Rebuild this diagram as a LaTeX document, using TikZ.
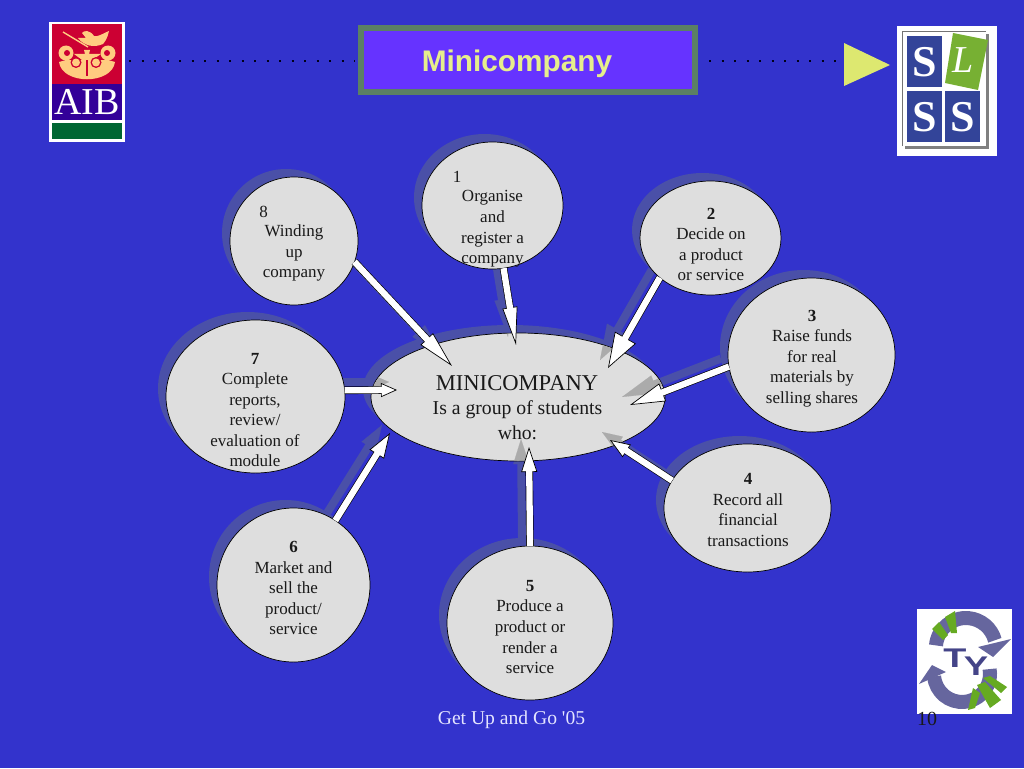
\documentclass[tikz,border=0pt]{standalone}
\usepackage{fontspec}
\usepackage{graphicx}
\setmainfont{Liberation Serif}
\newfontfamily\arialf{Liberation Sans}
\newfontfamily\plainserif{Liberation Serif}
\usetikzlibrary{shapes.geometric,arrows.meta,backgrounds}
\definecolor{bgblue}{HTML}{3333CC}
\definecolor{shadowblue}{HTML}{4A50A8}
\definecolor{bubble}{HTML}{DEDEDE}
\definecolor{titlefill}{HTML}{6633FF}
\definecolor{titleline}{HTML}{5B8064}
\definecolor{titletext}{HTML}{E6EE8C}
\definecolor{lime}{HTML}{DDE870}
\definecolor{aibred}{HTML}{CC0033}
\definecolor{aibblue}{HTML}{330099}
\definecolor{aibgreen}{HTML}{006633}
\definecolor{peach}{HTML}{FFCC80}
\definecolor{slssblue}{HTML}{334499}
\definecolor{slssgreen}{HTML}{77B033}
\definecolor{tyarc}{HTML}{66669E}
\definecolor{tydark}{HTML}{444488}
\definecolor{tygreen}{HTML}{66AA22}
\definecolor{fallshadow}{HTML}{ABABAB}
\tikzset{
  bubblenode/.style={ellipse,draw=black,line width=0.7pt,fill=bubble,inner sep=0pt,outer sep=0pt},
  bubbleshadow/.style={ellipse,fill=shadowblue,inner sep=0pt,outer sep=0pt},
  labeltext/.style={align=center,inner sep=0pt,text=black!90,font=\fontsize{17}{20.55}\selectfont},
  dotline/.style={line width=2.4pt,black!90!blue,dash pattern=on 2.2pt off 10.3pt},
  sqblue/.style={fill=slssblue,draw=none},
  slssletter/.style={text=white,inner sep=0pt,font=\fontsize{44}{44}\selectfont\bfseries},
  offsetshadow/.style={transform canvas={shift={(-8pt,8pt)}}}
}
% bubble: name, cx, cy, width, height
\newcommand{\bub}[5]{%
  \node[bubblenode,minimum width=#4pt,minimum height=#5pt] (#1) at (#2,#3) {};
  \begin{pgfonlayer}{background}
    \node[bubbleshadow,minimum width=#4pt,minimum height=#5pt] (#1s) at (#2-8,#3-8) {};
  \end{pgfonlayer}}
% shape of a block arrow, in one colour (shadow)
\newcommand{\arrowshape}[5]{%
  \draw[#5,line width=8pt,shorten >=#3pt-2pt] (#1) -- (#2);
  \draw[#5,line width=0.1pt,-{Triangle[length=#3pt,width=#4pt,fill=#5,color=#5]}] (#1) -- (#2);}
% white block arrow with thin black edge
\newcommand{\blockarrow}[4]{%
  \draw[black,line width=7.6pt,shorten >=#3pt-2pt] (#1) -- (#2);
  \draw[black,line width=0.1pt,-{Triangle[length=#3pt,width=#4pt,fill=white,color=black,line width=0.7pt]}] (#1) -- (#2);
  \draw[white,line width=6.3pt,shorten >=#3pt-1.5pt] (#1) -- (#2);}
\begin{document}
\begin{tikzpicture}[x=1pt,y=-1pt]
\useasboundingbox (0,0) rectangle (1024,768);
\begin{pgfonlayer}{background}
  \fill[bgblue] (0,0) rectangle (1024,768);
\end{pgfonlayer}

% header
\node[draw=titleline,line width=6pt,fill=titlefill,minimum width=334pt,minimum height=64pt,inner sep=0pt] (title) at (528,60) {};
\node[inner sep=0pt,text=titletext,font=\arialf\fontsize{29.8}{30}\selectfont\bfseries] (titletxt) at (517,63.5) {Minicompany};
\coordinate (dotA) at (129,61);
\coordinate (dotB) at (355,61);
\coordinate (dotC) at (709,61);
\coordinate (dotD) at (838,61);
\draw[dotline] (dotA) -- (dotB);
\draw[dotline] (dotC) -- (dotD);
\fill[lime] (844,43) -- (844,86) -- (890,65) -- cycle;

% AIB logo
\fill[white] (49,22) rectangle (125,142);
\fill[aibred] (52,24) rectangle (122,84);
\fill[aibblue] (52,84) rectangle (122,119.5);
\fill[aibgreen] (52,122.5) rectangle (122,138.5);
\fill[peach] (59,62) .. controls (62,85) and (112,85) .. (115,62) -- (108,60) -- (66,60) -- cycle;
\fill[peach] (84,50) -- (90,50) -- (89,54) -- (101,54) -- (92,60) -- (82,60) -- (74,54) -- (85,54) -- cycle;
\fill[peach] (66,53) circle (7.5pt);
\fill[peach] (108,53) circle (7.5pt);
\fill[aibred] (67,53) circle (3pt);
\fill[aibred] (107,53) circle (3pt);
\fill[aibred] (76,62.5) circle (5.5pt);
\fill[aibred] (96,62.5) circle (5.5pt);
\fill[peach] (76,62.5) circle (4pt);
\fill[peach] (96,62.5) circle (4pt);
\fill[aibred] (85.5,60) rectangle (87.5,76);
\fill[peach] (78,38) .. controls (84,46) and (94,48) .. (103,44) .. controls (108,38) and (108,34) .. (109,31)
   .. controls (102,34) and (98,37) .. (94,36) .. controls (90,30) and (84,30) .. (82,33) -- (86,38) -- cycle;
\draw[peach,line width=1.4pt] (63,32) -- (88,47);
\node[text=white,inner sep=0pt,font=\fontsize{38}{38}\selectfont] (aibtext) at (87,102) {AIB};

% SLSS logo
\fill[white] (897,26) rectangle (997,156);
\fill[black!50] (905,34) rectangle (989,149);
\fill[white] (902,31) rectangle (986,146);
\draw[black!55,line width=0.8pt] (902,146) -- (902,31) -- (986,31);
\fill[sqblue] (907,36) rectangle (942,87);
\fill[sqblue] (907,91) rectangle (942,142);
\fill[sqblue] (945,91) rectangle (980,142);
\fill[slssgreen] (953,33) -- (988,40) -- (978,90) -- (945,83) -- cycle;
\node[slssletter] (s1) at (924.5,62) {S};
\node[slssletter] (s2) at (924.5,117) {S};
\node[slssletter] (s3) at (962.5,117) {S};
\node[slssletter,font=\fontsize{38}{38}\selectfont\itshape] (l1) at (963,60) {L};

% TY logo
\fill[white] (917,609) rectangle (1012,714);
\draw[tyarc,line width=14pt] (936,645.4) arc (-175:-15:30);
\fill[tyarc] (978,647) -- (1011,639) -- (993,657) -- cycle;
\draw[tyarc,line width=14pt] (934.1,676.4) arc (175:-10:28);
\fill[tyarc] (932,665) -- (919,684) -- (946,672) -- cycle;
\fill[tygreen] (932,629) -- (939,622) -- (948,635) -- (943,640) -- cycle;
\fill[tygreen] (945,617) -- (955,611) -- (957,633) -- (951,633) -- cycle;
\fill[tygreen] (968,710) -- (973,688) -- (980,693) -- (975,708) -- cycle;
\fill[tygreen] (977,685) -- (985,682) -- (1001,700) -- (990,708) -- cycle;
\fill[tygreen] (983,678) -- (990,676) -- (1007,687) -- (1001,693) -- cycle;
\node[text=tydark,inner sep=0pt,font=\arialf\fontsize{27}{27}\selectfont\bfseries] (tyT) at (955,658) {\scalebox{1.4}[1]{T}};
\node[text=tydark,inner sep=0pt,font=\arialf\fontsize{27}{27}\selectfont\bfseries] (tyY) at (976,666) {\scalebox{1.35}[1]{Y}};

% bubbles
\bub{c8}{294}{241}{128}{128}
\bub{c1}{492.5}{205.5}{141}{127}
\bub{c2}{710.5}{238}{141}{114}
\bub{c3}{811.5}{355}{167}{154}
\bub{c4}{747.5}{508}{167}{128}
\bub{c5}{530}{623}{166}{154}
\bub{c6}{293.5}{585}{153}{154}
\bub{c7}{255.5}{396.5}{179}{153}
\bub{hub}{518}{397}{294}{128}

% arrow tips inside the central ellipse
\coordinate (t1) at (516,345);
\coordinate (t2) at (608,368);
\coordinate (t3) at (630,405);
\coordinate (t4) at (610,440);
\coordinate (t5) at (529,447);
\coordinate (t6) at (390,433);
\coordinate (t7) at (397,390);
\coordinate (t8) at (452,366);

% arrow shadows on the background
\begin{pgfonlayer}{background}
  \begin{scope}[offsetshadow]
    \arrowshape{c1.-80}{t1}{38}{15}{shadowblue}
    \arrowshape{c2.-142}{t2}{35}{24}{shadowblue}
    \arrowshape{c3.-172}{t3}{35}{19}{shadowblue}
    \arrowshape{c4.160}{t4}{20}{15}{shadowblue}
    \arrowshape{c5.90}{t5}{25}{16}{shadowblue}
    \arrowshape{c6.57}{t6}{25}{17}{shadowblue}
    \arrowshape{c7.4}{t7}{16}{14}{shadowblue}
    \arrowshape{c8.-19}{t8}{37}{17}{shadowblue}
  \end{scope}
\end{pgfonlayer}

% arrow shadows falling on the central ellipse
\begin{scope}
  \clip (518,397) ellipse [x radius=146.5,y radius=63.5];
  \begin{scope}[offsetshadow]
    \arrowshape{c1.-80}{t1}{38}{15}{fallshadow}
    \arrowshape{c2.-142}{t2}{35}{24}{fallshadow}
    \arrowshape{c3.-172}{t3}{35}{19}{fallshadow}
    \arrowshape{c4.160}{t4}{20}{15}{fallshadow}
    \arrowshape{c5.90}{t5}{25}{16}{fallshadow}
    \arrowshape{c6.57}{t6}{25}{17}{fallshadow}
    \arrowshape{c7.4}{t7}{16}{14}{fallshadow}
  \end{scope}
\end{scope}

% bubble texts
\node[labeltext,font=\fontsize{22.6}{25}\selectfont] (hubA) at (517,383) {MINICOMPANY};
\node[labeltext,font=\fontsize{19.7}{24.5}\selectfont] (hubB) at (517.5,420) {Is a group of students\\who:};
\node[labeltext] (n1) at (457,176.5) {1};
\node[labeltext] (x1) at (492.5,229) {Organise\\and\\register a\\company};
\node[labeltext] (n8) at (263.5,212) {8};
\node[labeltext] (x8) at (294,253) {Winding\\up\\company};
\node[labeltext] (x2) at (711,244.5) {\textbf{2}\\Decide on\\a product\\or service};
\node[labeltext] (x3) at (812,358.5) {\textbf{3}\\Raise funds\\for real\\materials by\\selling shares};
\node[labeltext] (x4) at (748,510) {\textbf{4}\\Record all\\financial\\transactions};
\node[labeltext] (x5) at (530,627) {\textbf{5}\\Produce a\\product or\\render a\\service};
\node[labeltext] (x6) at (293.5,588) {\textbf{6}\\Market and\\sell the\\product/\\service};
\node[labeltext] (x7) at (255,410) {\textbf{7}\\Complete\\reports,\\review/\\evaluation of\\module};

% white arrows
\blockarrow{c1.-80}{t1}{38}{15}
\blockarrow{c2.-142}{t2}{35}{24}
\blockarrow{c3.-172}{t3}{35}{19}
\blockarrow{c4.160}{t4}{20}{15}
\blockarrow{c5.90}{t5}{25}{16}
\blockarrow{c6.57}{t6}{25}{17}
\blockarrow{c7.4}{t7}{16}{14}
\blockarrow{c8.-19}{t8}{37}{17}

% footer
\node[inner sep=0pt,text=white!90!blue,font=\plainserif\fontsize{19.6}{24}\selectfont] (foot) at (511.5,720) {Get Up and Go '05};
\node[inner sep=0pt,text=black!90,font=\fontsize{20}{24}\selectfont] (pageno) at (927,719) {10};
\end{tikzpicture}
\end{document}
